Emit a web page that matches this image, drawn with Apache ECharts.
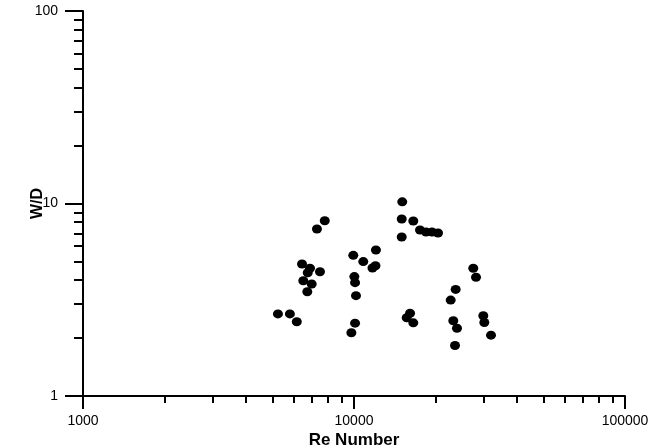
<!DOCTYPE html>
<html>
<head>
<meta charset="utf-8">
<title>W/D vs Re Number</title>
<script src="https://cdn.jsdelivr.net/npm/echarts@6/dist/echarts.min.js"></script>
<style>
  html, body { margin: 0; padding: 0; background: #fff; }
  #chart { width: 651px; height: 448px; }
</style>
</head>
<body>
<div id="chart"></div>
<script>
// Re Number (x) and W/D (y)
var reValues = [
  7800, 7300, 6430, 6880, 6750, 7490, 6500, 6980, 6725, 5240, 5800, 6150,
  9940, 10820, 12050, 11700, 12000, 10030, 10090, 10170, 10090, 9780,
  15070, 15000, 16550, 15000, 17520, 18440, 19400, 20420,
  27550, 28200, 23720, 22740, 16100, 15650, 16550, 23250, 23990,
  30000, 30260, 32030, 23590
];
var wdValues = [
  8.14, 7.37, 4.85, 4.61, 4.37, 4.42, 3.97, 3.82, 3.48, 2.67, 2.67, 2.43,
  5.38, 4.99, 5.73, 4.62, 4.75, 4.17, 3.88, 3.32, 2.39, 2.13,
  10.2, 8.31, 8.11, 6.70, 7.28, 7.11, 7.11, 7.03,
  4.61, 4.14, 3.58, 3.15, 2.69, 2.55, 2.40, 2.46, 2.25,
  2.61, 2.41, 2.07, 1.83
];

// tick positions of the two log axes
var xMajorTicks = [1000, 10000, 100000];
var xMinorTicks = [2000, 3000, 4000, 5000, 6000, 7000, 8000, 9000,
  20000, 30000, 40000, 50000, 60000, 70000, 80000, 90000];
var yMajorTicks = [1, 10, 100];
var yMinorTicks = [2, 3, 4, 5, 6, 7, 8, 9, 20, 30, 40, 50, 60, 70, 80, 90];

var points = [];
for (var i = 0; i < reValues.length; i++) {
  points.push([reValues[i], wdValues[i]]);
}

var font = "'Liberation Sans', Arial, sans-serif";
var lineStyle = { color: "#000", width: 2 };

var oChart = echarts.init(document.getElementById("chart"));
oChart.setOption({
  animation: false,
  backgroundColor: "#fff",
  grid: {
    left: 83,
    right: 26,
    top: 11,
    bottom: 52,
    outerBoundsMode: "none"
  },
  xAxis: [
    {
      type: "log",
      logBase: 10,
      min: 1000,
      max: 100000,
      position: "bottom",
      name: "Re Number",
      nameLocation: "middle",
      nameGap: 36,
      nameMoveOverlap: false,
      nameTextStyle: { fontFamily: font, fontSize: 17, fontWeight: "bold", color: "#000", verticalAlign: "top" },
      axisLine: { lineStyle: lineStyle },
      axisTick: { length: 13, lineStyle: lineStyle, customValues: xMajorTicks },
      axisLabel: {
        customValues: xMajorTicks,
        margin: 18,
        fontFamily: font,
        fontSize: 14,
        color: "#000",
        formatter: function (v) { return String(Math.round(v)); }
      },
      splitLine: { show: false }
    },
    {
      type: "log",
      logBase: 10,
      min: 1000,
      max: 100000,
      position: "bottom",
      axisLine: { show: false },
      axisTick: { length: 7, lineStyle: lineStyle, customValues: xMinorTicks },
      axisLabel: { show: false },
      splitLine: { show: false }
    }
  ],
  yAxis: [
    {
      type: "log",
      logBase: 10,
      min: 1,
      max: 100,
      position: "left",
      name: "W/D",
      nameLocation: "middle",
      nameRotate: 90,
      nameGap: 37,
      nameMoveOverlap: false,
      nameTextStyle: { fontFamily: font, fontSize: 16, fontWeight: "bold", color: "#000" },
      axisLine: { lineStyle: lineStyle },
      axisTick: { length: 18, lineStyle: lineStyle, customValues: yMajorTicks },
      axisLabel: {
        customValues: yMajorTicks,
        margin: 25,
        fontFamily: font,
        fontSize: 14,
        color: "#000",
        formatter: function (v) { return String(Math.round(v)); }
      },
      splitLine: { show: false }
    },
    {
      type: "log",
      logBase: 10,
      min: 1,
      max: 100,
      position: "left",
      axisLine: { show: false },
      axisTick: { length: 9, lineStyle: lineStyle, customValues: yMinorTicks },
      axisLabel: { show: false },
      splitLine: { show: false }
    }
  ],
  series: [
    {
      type: "scatter",
      xAxisIndex: 0,
      yAxisIndex: 0,
      symbol: "circle",
      symbolSize: [10, 9],
      itemStyle: { color: "#000", opacity: 1 },
      data: points
    }
  ]
});
</script>
</body>
</html>
